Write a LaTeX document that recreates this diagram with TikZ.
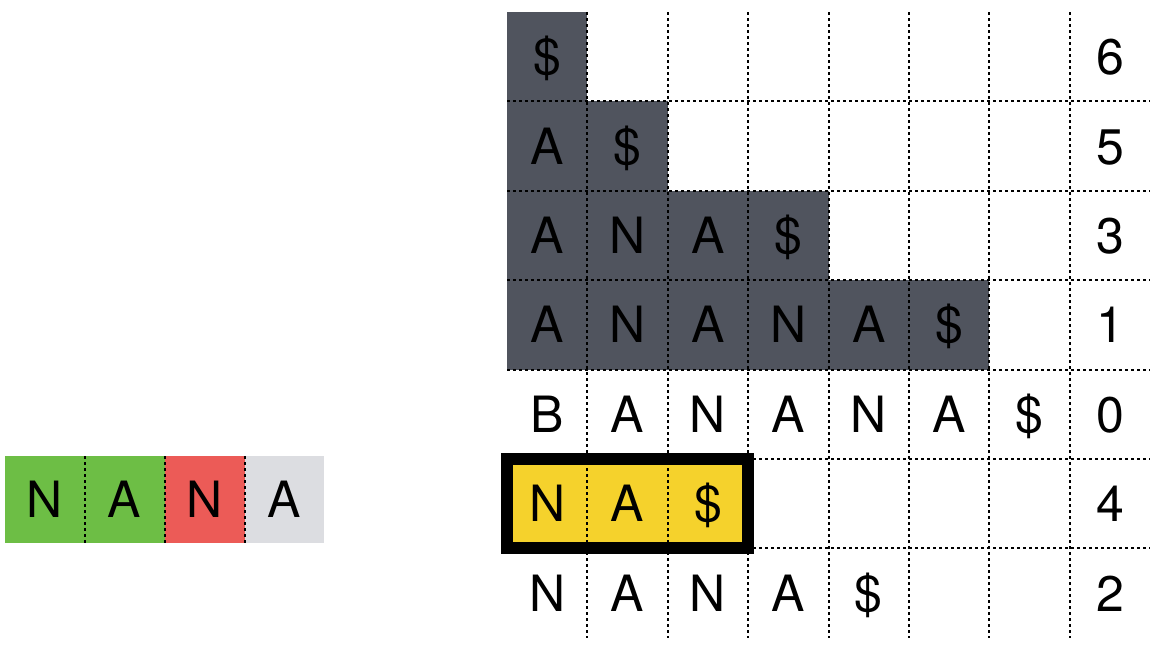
\documentclass[tikz,border=0pt]{standalone}
\usepackage{fontspec}
\setmainfont{TeX Gyre Heros}
\definecolor{darkcell}{HTML}{50545E}
\definecolor{yellowcell}{HTML}{F5D22C}
\definecolor{greencell}{HTML}{6DBE45}
\definecolor{redcell}{HTML}{EC5B57}
\definecolor{graycell}{HTML}{DCDDE1}
\begin{document}
\begin{tikzpicture}[x=1pt,y=-1pt,
  cell/.style={font=\fontsize{50}{50}\selectfont, text=black, inner sep=0pt, anchor=base},
  gridline/.style={black, line width=1.9pt, dash pattern=on 3.2pt off 2.8pt},
  boxline/.style={black, line width=12pt}]
\useasboundingbox (0,0) rectangle (1157,648);
% dark suffix rows
\fill[darkcell] (507,12) rectangle (587.4,101.4);
\fill[darkcell] (507,101.4) rectangle (667.8,190.8);
\fill[darkcell] (507,190.8) rectangle (828.6,280.2);
\fill[darkcell] (507,280.2) rectangle (989.4,369.6);
% yellow
\fill[yellowcell] (507,459) rectangle (748.2,548.4);
% grid
\foreach \i in {1,...,7}
  \draw[gridline] ({507+80.4*\i},12) -- ({507+80.4*\i},637.8);
\foreach \j in {1,...,6}
  \draw[gridline] (507,{12+89.4*\j}) -- (1150.2,{12+89.4*\j});
% highlight box
\draw[boxline] (507,459) rectangle (748.2,548.4);
% cell texts
\foreach \j/\i/\t in {0/0/\$, 0/7/6,
  1/0/A, 1/1/\$, 1/7/5,
  2/0/A, 2/1/N, 2/2/A, 2/3/\$, 2/7/3,
  3/0/A, 3/1/N, 3/2/A, 3/3/N, 3/4/A, 3/5/\$, 3/7/1,
  4/0/B, 4/1/A, 4/2/N, 4/3/A, 4/4/N, 4/5/A, 4/6/\$, 4/7/0,
  5/0/N, 5/1/A, 5/2/\$, 5/7/4,
  6/0/N, 6/1/A, 6/2/N, 6/3/A, 6/4/\$, 6/7/2}
  \node[cell] (t\j-\i) at ({507+80.4*(\i+0.5)},{12+89.4*(\j+0.5)+18}) {\t};
% left strip
\fill[greencell] (5,456) rectangle (165,543);
\fill[redcell] (165,456) rectangle (245,543);
\fill[graycell] (245,456) rectangle (324,543);
\foreach \x in {85,165,245}
  \draw[gridline] (\x,456) -- (\x,543);
\foreach \k/\t in {0/N,1/A,2/N,3/A}
  \node[cell] (s\k) at ({5+79.75*(\k+0.5)},{499.5+18}) {\t};
\end{tikzpicture}
\end{document}
